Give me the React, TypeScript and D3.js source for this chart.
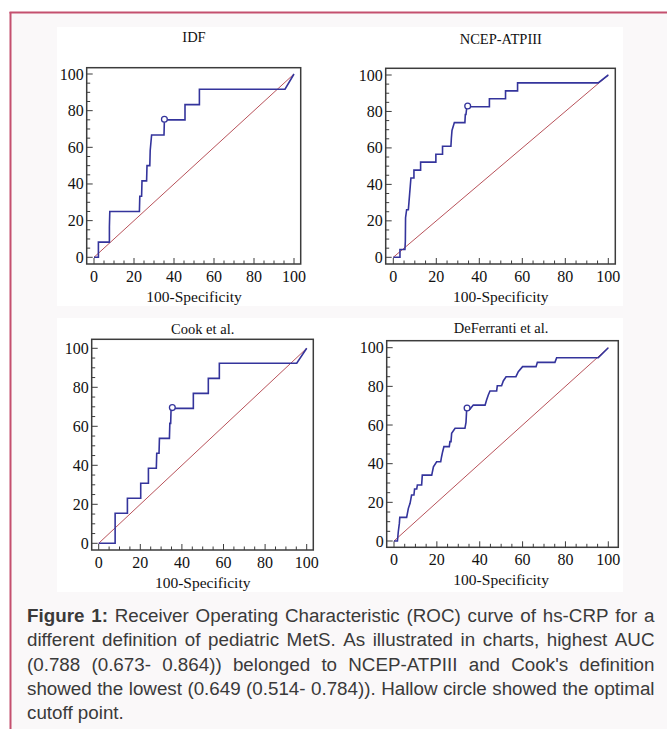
import React, { useMemo } from 'react';
import * as d3 from 'd3';

// ---------- data ----------
const panelTitles = ['IDF', 'NCEP-ATPIII', 'Cook et al.', 'DeFerranti et al.'];
const xAxisTitle = '100-Specificity';
const majorTicks = [0, 20, 40, 60, 80, 100];
const minorTicks = [5, 10, 15, 25, 30, 35, 45, 50, 55, 65, 70, 75, 85, 90, 95];
const diagonal: [number, number][] = [[0, 0], [100, 100]];

const idfCurve: [number, number][] = [
  [0, 0], [2.2, 0], [2.2, 8.3], [7.7, 8.3], [7.7, 16.7], [7.9, 25], [22.7, 25], [22.9, 33.3],
  [23.8, 33.3], [24, 41.7], [26.3, 41.7], [26.5, 50], [27.9, 50], [28.1, 58.3], [28.8, 66.7],
  [35, 66.7], [35.2, 75], [45.5, 75], [45.5, 83.3], [52.7, 83.3], [52.7, 91.7], [95.5, 91.7], [100, 100],
];
const idfCutoff: [number, number] = [35.2, 75.3];

const ncepCurve: [number, number][] = [
  [0, 0], [3.1, 0], [3.1, 4.3], [5.4, 4.3], [5.6, 8.7], [5.7, 21.7], [6.2, 26.1], [7, 26.1],
  [7.3, 30.4], [7.6, 34.8], [7.9, 39.1], [8.2, 43.5], [9.6, 43.5], [9.6, 47.8], [12.7, 47.8],
  [12.7, 52.2], [19.8, 52.2], [19.8, 56.5], [22.9, 56.5], [22.9, 60.9], [26.8, 60.9], [27, 65.2],
  [27.3, 69.6], [28.4, 73.9], [33.3, 73.9], [33.5, 78.3], [33.8, 78.3], [34.2, 82.6], [44.7, 82.6],
  [44.7, 87], [52.2, 87], [52.2, 91.3], [57.8, 91.3], [57.8, 95.7], [95.3, 95.7], [100, 100],
];
const ncepCutoff: [number, number] = [34.6, 83];

const cookCurve: [number, number][] = [
  [0, 0], [7.9, 0], [7.9, 15.4], [13.8, 15.4], [13.8, 23.1], [20.2, 23.1], [20.2, 30.8],
  [23.9, 30.8], [23.9, 38.5], [27.7, 38.5], [27.9, 46.2], [29, 46.2], [29.2, 53.8], [34, 53.8],
  [34.2, 61.5], [34.6, 61.5], [34.8, 69.2], [45.5, 69.2], [45.5, 76.9], [52.7, 76.9], [52.7, 84.6],
  [58, 84.6], [58, 92.3], [95.2, 92.3], [100, 100],
];
const cookCutoff: [number, number] = [35.4, 69.6];

const deferCurve: [number, number][] = [
  [0, 0], [1.6, 0], [2.0, 4.8], [2.5, 9.1], [2.7, 12.2], [5.9, 12.2], [6.7, 16.9], [7.5, 19.5],
  [8.2, 23.8], [9.3, 23.8], [9.6, 26.9], [10.6, 26.9], [10.9, 29], [12.9, 29], [13.2, 34.1],
  [17.6, 34.1], [18.4, 38.4], [19.9, 41], [21.8, 41], [22.2, 43.6], [22.7, 46.2], [23.3, 48.8],
  [25.8, 48.8], [26.1, 51.4], [26.6, 51.4], [26.9, 55.7], [28.5, 58.3], [33.1, 58.3], [33.6, 61.4],
  [33.9, 67.8], [34.1, 68.8], [35.5, 68.3], [37, 70.3], [42.5, 70.3], [43.2, 72.9], [44, 75.5],
  [44.8, 77.6], [47.9, 77.6], [48.2, 80.3], [50.2, 80.3], [51, 82.8], [52.3, 85], [56.9, 85],
  [58, 87.6], [60, 90.2], [66.3, 90.2], [66.9, 92.4], [75.1, 92.4], [75.9, 94.8], [95.3, 94.8],
  [100, 100],
];
const deferCutoff: [number, number] = [34.1, 68.8];

const curves = [idfCurve, ncepCurve, cookCurve, deferCurve];
const cutoffs = [idfCutoff, ncepCutoff, cookCutoff, deferCutoff];

const captionBold = 'Figure 1:';
const captionLines = [
  'Figure 1: Receiver Operating Characteristic (ROC) curve of hs-CRP for a',
  'different definition of pediatric MetS. As illustrated in charts, highest AUC',
  "(0.788 (0.673- 0.864)) belonged to NCEP-ATPIII and Cook's definition",
  'showed the lowest (0.649 (0.514- 0.784)). Hallow circle showed the optimal',
  'cutoff point.',
];

// ---------- layout ----------
const W = 667;
const H = 729;
type Layout = { frame: [number, number, number, number]; xr: [number, number]; yr: [number, number]; titleY: number };
const layouts: Layout[] = [
  { frame: [86.7, 67.7, 300.7, 264], xr: [94, 294], yr: [257.3, 74], titleY: 37 },
  { frame: [385.7, 68.3, 615.3, 264], xr: [393.3, 608.3], yr: [257.3, 75], titleY: 39 },
  { frame: [91.7, 339.3, 313.3, 550], xr: [98.7, 306.7], yr: [543.3, 348.3], titleY: 329 },
  { frame: [386.7, 340.7, 618.3, 547.3], xr: [394, 608.3], yr: [541, 347.7], titleY: 328.3 },
];

const SERIF = '"Liberation Serif", "Times New Roman", serif';
const SANS = '"Liberation Sans", Arial, sans-serif';
const BLUE = '#34349c';
const DIAG = '#b8525a';
const FRAME = '#3c3c3c';

function Panel({ idx }: { idx: number }) {
  const L = layouts[idx];
  const x = d3.scaleLinear().domain([0, 100]).range(L.xr);
  const y = d3.scaleLinear().domain([0, 100]).range(L.yr);
  const line = d3.line<[number, number]>().x((d) => x(d[0])).y((d) => y(d[1]));
  const [fx0, fy0, fx1, fy1] = L.frame;
  const c = cutoffs[idx];
  return (
    <g>
      <text x={(L.xr[0] + L.xr[1]) / 2} y={L.titleY} textAnchor="middle" dominantBaseline="central"
        fontFamily={SERIF} fontSize={14.5} fill="#111">{panelTitles[idx]}</text>
      <path d={line(diagonal) || ''} stroke={DIAG} strokeWidth={1} fill="none" />
      <path d={line(curves[idx]) || ''} stroke={BLUE} strokeWidth={1.6} fill="none" strokeLinejoin="miter" />
      <circle cx={x(c[0])} cy={y(c[1])} r={2.9} fill="#fff" stroke={BLUE} strokeWidth={1.3} />
      <rect x={fx0} y={fy0} width={fx1 - fx0} height={fy1 - fy0} fill="none" stroke={FRAME} strokeWidth={1.5} />
      {majorTicks.map((t) => (
        <g key={'m' + t}>
          <line x1={x(t)} x2={x(t)} y1={fy1} y2={fy1 - 6} stroke={FRAME} strokeWidth={1} />
          <line x1={fx0} x2={fx0 + 6} y1={y(t)} y2={y(t)} stroke={FRAME} strokeWidth={1} />
          <text x={x(t)} y={fy1 + 12.5} textAnchor="middle" dominantBaseline="central"
            fontFamily={SERIF} fontSize={16} fill="#111">{t}</text>
          <text x={fx0 - 3} y={y(t)} textAnchor="end" dominantBaseline="central"
            fontFamily={SERIF} fontSize={16} fill="#111">{t}</text>
        </g>
      ))}
      {minorTicks.map((t) => (
        <g key={'n' + t}>
          <line x1={x(t)} x2={x(t)} y1={fy1} y2={fy1 - 3.5} stroke={FRAME} strokeWidth={1} />
          <line x1={fx0} x2={fx0 + 3.5} y1={y(t)} y2={y(t)} stroke={FRAME} strokeWidth={1} />
        </g>
      ))}
      <text x={(L.xr[0] + L.xr[1]) / 2} y={fy1 + 32.5} textAnchor="middle" dominantBaseline="central"
        fontFamily={SERIF} fontSize={15.5} fill="#111">{xAxisTitle}</text>
    </g>
  );
}

const CAP_SIZE = 18.8;
const CAP_X0 = 27;
const CAP_X1 = 654.5;
const CAP_BASE = [622, 646.3, 670.6, 694.9, 719.2];

function Caption() {
  const layout = useMemo(() => {
    const ctx = document.createElement('canvas').getContext('2d')!;
    const measure = (t: string, bold: boolean) => {
      ctx.font = `${bold ? 'bold ' : ''}${CAP_SIZE}px "Liberation Sans"`;
      return ctx.measureText(t).width;
    };
    const boldWords = captionBold.split(' ');
    return captionLines.map((ln, li) => {
      const words = ln.split(' ');
      const isBold = words.map((w, wi) => li === 0 && wi < boldWords.length);
      const widths = words.map((w, wi) => measure(w, isBold[wi]));
      const total = widths.reduce((a, b) => a + b, 0);
      const justify = li < captionLines.length - 1;
      const normalSpace = measure(' ', false);
      const gap = justify ? (CAP_X1 - CAP_X0 - total) / (words.length - 1) : normalSpace;
      let cx = CAP_X0;
      return words.map((w, wi) => {
        const pos = cx;
        cx += widths[wi] + gap;
        return { w, x: pos, bold: isBold[wi] };
      });
    });
  }, []);
  return (
    <g fontFamily={SANS} fontSize={CAP_SIZE} fill="#3a3a3a">
      {layout.map((words, li) => (
        <text key={li} y={CAP_BASE[li]}>
          {words.map((wd, wi) => (
            <tspan key={wi} x={wd.x} fontWeight={wd.bold ? 'bold' : 'normal'}>{wd.w}</tspan>
          ))}
        </text>
      ))}
    </g>
  );
}

export default function App() {
  return (
    <svg width={W} height={H} viewBox={`0 0 ${W} ${H}`}
      style={{ position: 'absolute', left: 0, top: 0, display: 'block' }}>
      <rect x={0} y={0} width={W} height={H} fill="#ffffff" />
      <rect x={10} y={12} width={W} height={H} fill="#faf8f9" />
      <line x1={9.5} x2={W} y1={12.5} y2={12.5} stroke="#c4506f" strokeWidth={2} />
      <line x1={10.5} x2={10.5} y1={12} y2={H} stroke="#c4506f" strokeWidth={2} />
      <rect x={57} y={27} width={566} height={279} fill="#ffffff" />
      <rect x={57} y={318} width={566} height={274} fill="#ffffff" />
      {[0, 1, 2, 3].map((i) => (
        <Panel key={i} idx={i} />
      ))}
      <Caption />
    </svg>
  );
}
